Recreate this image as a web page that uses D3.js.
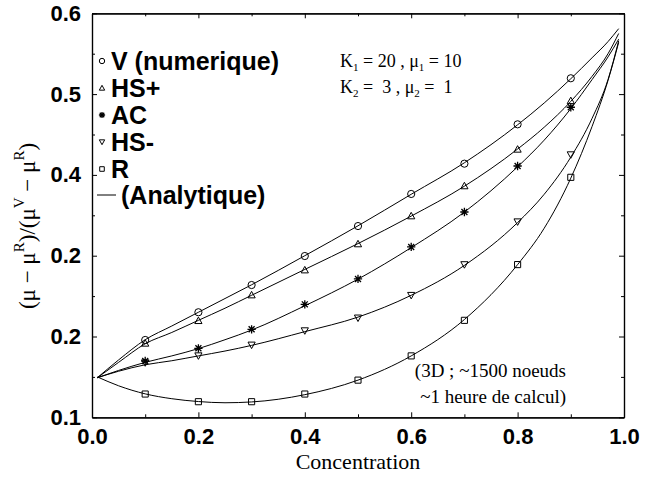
<!DOCTYPE html>
<html><head><meta charset="utf-8">
<script src="https://cdn.jsdelivr.net/npm/d3@7"></script>
<style>
html,body{margin:0;padding:0;background:#fff;}
svg{display:block;}
</style></head>
<body>
<svg id="chart" width="646" height="477"></svg>
<script>
// ---- data ----
const concPoints = [0.1, 0.2, 0.3, 0.4, 0.5, 0.6, 0.7, 0.8, 0.9];
const vNumerique = [0.1957, 0.2300, 0.2637, 0.2996, 0.3367, 0.3764, 0.4139, 0.4626, 0.5196];
const hsPlus     = [0.1916, 0.2196, 0.2514, 0.2823, 0.3146, 0.3492, 0.3864, 0.4317, 0.4918];
const acVals     = [0.1697, 0.1854, 0.2089, 0.2398, 0.2712, 0.3108, 0.3541, 0.4110, 0.4837];
const hsMinus    = [0.1676, 0.1762, 0.1895, 0.2072, 0.2230, 0.2510, 0.2890, 0.3420, 0.4250];
const rVals      = [0.1288, 0.1193, 0.1193, 0.1288, 0.1460, 0.1760, 0.2200, 0.2890, 0.3970];

const concCurve  = [0.01, 0.05, 0.1, 0.15, 0.2, 0.25, 0.3, 0.4, 0.5, 0.6, 0.7, 0.8, 0.85, 0.9, 0.94, 0.97, 0.99];
const vCurve     = [0.149, 0.171, 0.196, 0.213, 0.230, 0.247, 0.264, 0.300, 0.337, 0.376, 0.415, 0.462, 0.489, 0.519, 0.545, 0.565, 0.581];
const hsPlusCurve= [0.149, 0.168, 0.191, 0.205, 0.220, 0.235, 0.251, 0.283, 0.315, 0.349, 0.386, 0.432, 0.459, 0.491, 0.522, 0.550, 0.575];
const acCurve    = [0.149, 0.158, 0.168, 0.176, 0.185, 0.196, 0.208, 0.238, 0.271, 0.310, 0.354, 0.410, 0.443, 0.482, 0.518, 0.546, 0.568];
const hsMinusCurve=[0.149, 0.157, 0.165, 0.170, 0.176, 0.182, 0.189, 0.206, 0.224, 0.251, 0.288, 0.341, 0.376, 0.422, 0.470, 0.518, 0.566];
const rCurve     = [0.150, 0.139, 0.129, 0.123, 0.1195, 0.118, 0.119, 0.128, 0.146, 0.176, 0.221, 0.289, 0.334, 0.396, 0.460, 0.517, 0.564];

const xTickValues = [0, 0.2, 0.4, 0.6, 0.8, 1.0];
const xTickLabels = ["0.0", "0.2", "0.4", "0.6", "0.8", "1.0"];
const xMinorTicks = [0.1, 0.3, 0.5, 0.7, 0.9];
const yTickValues = [0.1, 0.2, 0.3, 0.4, 0.5, 0.6];
const yTickLabels = ["0.1", "0.2", "0.2", "0.4", "0.5", "0.6"];
const yMinorTicks = [0.15, 0.25, 0.35, 0.45, 0.55];

const legendNames = ["V (numerique)", "HS+", "AC", "HS-", "R"];
const legendShapes = ["circle", "up", "star", "down", "square"];

// ---- drawing ----
const svg = d3.select("#chart");
const L = 92, R = 624, T = 13.3, B = 417.3;
const x = d3.scaleLinear().domain([0, 1]).range([L, R]);
const y = d3.scaleLinear().domain([0.1, 0.6]).range([B, T]);

function shapePath(kind, s) {
  switch (kind) {
    case "up": return `M0,${-s}L${s},${s*0.8}L${-s},${s*0.8}Z`;
    case "down": return `M0,${s}L${s},${-s*0.8}L${-s},${-s*0.8}Z`;
    case "square": return `M${-s*0.85},${-s*0.85}H${s*0.85}V${s*0.85}H${-s*0.85}Z`;
    case "star": {
      const d = s * 0.72;
      return `M${-s},0H${s}M0,${-s}V${s}M${-d},${-d}L${d},${d}M${-d},${d}L${d},${-d}`;
    }
  }
  return null;
}
function drawMarker(g, kind, cx, cy, s) {
  if (kind === "circle") {
    g.append("circle").attr("cx", cx).attr("cy", cy).attr("r", s)
      .attr("fill", "none").attr("stroke", "#000").attr("stroke-width", 1);
  } else {
    g.append("path").attr("transform", `translate(${cx},${cy})`)
      .attr("d", shapePath(kind, kind === "star" ? s * 1.15 : s))
      .attr("fill", "none").attr("stroke", "#000")
      .attr("stroke-width", kind === "star" ? 1.3 : 1);
  }
}

// axes (ticks inward on all four sides)
const fontSans = "'Liberation Sans', Arial, Helvetica, sans-serif";
const fontSerif = "'Liberation Serif', 'Times New Roman', Times, serif";
svg.append("g").attr("transform", `translate(0,${B})`)
  .call(d3.axisBottom(x).tickValues(xTickValues).tickFormat((d, i) => xTickLabels[i]).tickSize(-5).tickSizeOuter(0).tickPadding(11));
svg.append("g").attr("transform", `translate(0,${B})`)
  .call(d3.axisBottom(x).tickValues(xMinorTicks).tickFormat("").tickSize(-3).tickSizeOuter(0));
svg.append("g").attr("transform", `translate(0,${T})`)
  .call(d3.axisTop(x).tickValues(xTickValues).tickFormat("").tickSize(-5).tickSizeOuter(0));
svg.append("g").attr("transform", `translate(0,${T})`)
  .call(d3.axisTop(x).tickValues(xMinorTicks).tickFormat("").tickSize(-3).tickSizeOuter(0));
svg.append("g").attr("transform", `translate(${L},0)`)
  .call(d3.axisLeft(y).tickValues(yTickValues).tickFormat((d, i) => yTickLabels[i]).tickSize(-5).tickSizeOuter(0).tickPadding(11));
svg.append("g").attr("transform", `translate(${L},0)`)
  .call(d3.axisLeft(y).tickValues(yMinorTicks).tickFormat("").tickSize(-3).tickSizeOuter(0));
svg.append("g").attr("transform", `translate(${R},0)`)
  .call(d3.axisRight(y).tickValues(yTickValues).tickFormat("").tickSize(-5).tickSizeOuter(0));
svg.append("g").attr("transform", `translate(${R},0)`)
  .call(d3.axisRight(y).tickValues(yMinorTicks).tickFormat("").tickSize(-3).tickSizeOuter(0));
svg.selectAll(".domain").attr("stroke", "#000").attr("stroke-width", 1.2);
svg.selectAll(".tick line").attr("stroke", "#000").attr("stroke-width", 1);
svg.selectAll(".tick text").attr("font-family", fontSans).attr("font-weight", "bold")
  .attr("font-size", 22).attr("fill", "#000");

// analytic curves
const line = d3.line().x(d => x(d[0])).y(d => y(d[1])).curve(d3.curveMonotoneX);
[vCurve, hsPlusCurve, acCurve, hsMinusCurve, rCurve].forEach(arr => {
  svg.append("path").datum(concCurve.map((c, i) => [c, arr[i]]))
    .attr("d", line).attr("fill", "none").attr("stroke", "#000").attr("stroke-width", 1);
});

// markers
const gm = svg.append("g");
[vNumerique, hsPlus, acVals, hsMinus, rVals].forEach((arr, k) => {
  arr.forEach((v, i) => drawMarker(gm, legendShapes[k], x(concPoints[i]), y(v), 3.6));
});

// legend
const lg = svg.append("g");
const rowY = [61, 88, 115, 142, 169, 195];
legendNames.forEach((name, i) => {
  drawMarker(lg, legendShapes[i], 102, rowY[i], 2.7);
  lg.append("text").attr("x", 111).attr("y", rowY[i]).attr("dy", "0.36em")
    .attr("font-family", fontSans).attr("font-weight", "bold").attr("font-size", 25)
    .text(name);
});
lg.append("line").attr("x1", 97).attr("x2", 116).attr("y1", rowY[5]).attr("y2", rowY[5])
  .attr("stroke", "#000").attr("stroke-width", 1);
lg.append("text").attr("x", 121).attr("y", rowY[5]).attr("dy", "0.36em")
  .attr("font-family", fontSans).attr("font-weight", "bold").attr("font-size", 25)
  .text("(Analytique)");

// parameter annotation
function subLine(yPos, parts) {
  const t = svg.append("text").attr("x", 340).attr("y", yPos)
    .attr("font-family", fontSerif).attr("font-size", 18).style("white-space", "pre");
  parts.forEach(p => {
    if (p.sub) t.append("tspan").attr("font-size", 11).attr("dy", 4).text(p.t);
    else if (p.back) t.append("tspan").attr("dy", -4).text(p.t);
    else t.append("tspan").text(p.t);
  });
}
subLine(67, [{t:"K"},{t:"1",sub:true},{t:" = 20 , \u03bc",back:true},{t:"1",sub:true},{t:" = 10",back:true}]);
subLine(93, [{t:"K"},{t:"2",sub:true},{t:" =  3 , \u03bc",back:true},{t:"2",sub:true},{t:" =  1",back:true}]);

// computation note
svg.append("text").attr("x", 566).attr("y", 377).attr("text-anchor", "end")
  .attr("font-family", fontSerif).attr("font-size", 19).text("(3D ; ~1500 noeuds");
svg.append("text").attr("x", 566).attr("y", 403).attr("text-anchor", "end")
  .attr("font-family", fontSerif).attr("font-size", 19).text("~1 heure de calcul)");

// axis titles
svg.append("text").attr("x", (L + R) / 2).attr("y", 469).attr("text-anchor", "middle")
  .attr("font-family", fontSerif).attr("font-size", 22).text("Concentration");

const yt = svg.append("text").attr("transform", `translate(35,226) rotate(-90)`)
  .attr("text-anchor", "middle").attr("font-family", fontSerif).attr("font-size", 23)
  .style("white-space", "pre");
yt.append("tspan").text("(\u03bc \u2212 \u03bc");
yt.append("tspan").attr("font-size", 15).attr("dy", -11).text("R");
yt.append("tspan").attr("dy", 11).text(")/(\u03bc");
yt.append("tspan").attr("font-size", 15).attr("dy", -11).text("V");
yt.append("tspan").attr("dy", 11).text(" \u2212 \u03bc");
yt.append("tspan").attr("font-size", 15).attr("dy", -11).text("R");
yt.append("tspan").attr("dy", 11).text(")");
</script>
</body></html>
